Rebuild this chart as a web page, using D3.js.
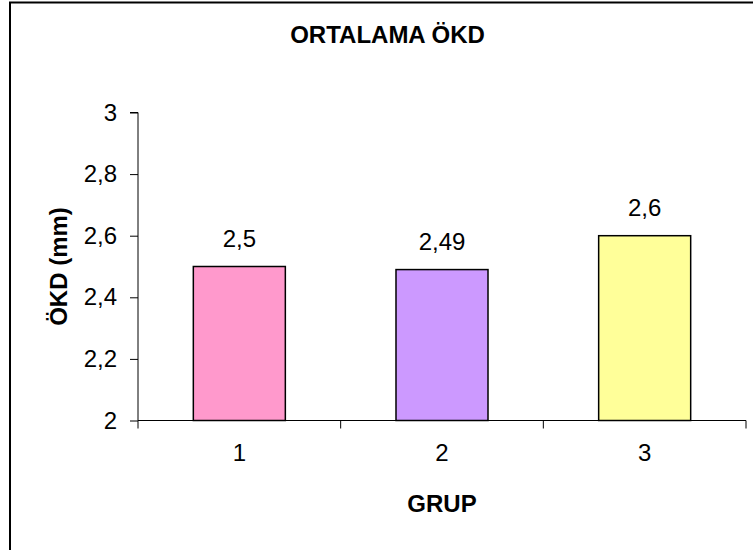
<!DOCTYPE html>
<html>
<head>
<meta charset="utf-8">
<script src="https://cdn.jsdelivr.net/npm/d3@7"></script>
<style>
  html, body { margin: 0; padding: 0; background: #fff; }
  svg { display: block; font-family: "Liberation Sans", Arial, sans-serif; }
</style>
</head>
<body>
<svg id="chart" width="753" height="550"></svg>
<script>
const categories = ["1", "2", "3"];
const values = [2.5, 2.49, 2.6];
const valueLabels = ["2,5", "2,49", "2,6"];
const barColors = ["#FF99CC", "#CC99FF", "#FFFF99"];
const yTicks = [2, 2.2, 2.4, 2.6, 2.8, 3];
const yTickLabels = ["2", "2,2", "2,4", "2,6", "2,8", "3"];
const titleText = "ORTALAMA ÖKD";
const xTitle = "GRUP";
const yTitle = "ÖKD (mm)";

(function () {
const svg = d3.select("#chart");

// outer chart border (extends beyond right/bottom edge)
svg.append("rect")
  .attr("x", 10).attr("y", 2.5)
  .attr("width", 800).attr("height", 600)
  .attr("fill", "#fff").attr("stroke", "#000").attr("stroke-width", 2);

const pLeft = 138, pRight = 746, pTop = 112.5, pBottom = 420.5;

const y = d3.scaleLinear().domain([2, 3]).range([pBottom, pTop]);
const p = 0.546;
const x = d3.scaleBand().domain(categories).range([pLeft, pRight])
  .paddingInner(p).paddingOuter(p / 2);

// title
svg.append("text")
  .attr("x", 387.5).attr("y", 42.7)
  .attr("text-anchor", "middle")
  .attr("font-size", 24).attr("font-weight", "bold")
  .text(titleText);

// bars
svg.selectAll("rect.bar").data(values).enter().append("rect")
  .attr("class", "bar")
  .attr("x", (d, i) => x(categories[i]))
  .attr("y", d => y(d))
  .attr("width", x.bandwidth())
  .attr("height", d => pBottom - y(d))
  .attr("fill", (d, i) => barColors[i])
  .attr("stroke", "#000").attr("stroke-width", 1.5);

// value labels
svg.selectAll("text.val").data(values).enter().append("text")
  .attr("class", "val")
  .attr("x", (d, i) => x(categories[i]) + x.bandwidth() / 2)
  .attr("y", d => y(d) - 19.5)
  .attr("text-anchor", "middle")
  .attr("font-size", 24)
  .text((d, i) => valueLabels[i]);

// y axis
const yAxis = d3.axisLeft(y).tickValues(yTicks).tickSize(8).tickPadding(13)
  .tickFormat((d, i) => yTickLabels[i]);
const gy = svg.append("g").attr("transform", `translate(${pLeft},0)`).call(yAxis);
gy.select(".domain").attr("stroke", "#000").attr("d", `M-8,${pTop}H0V${pBottom}`);
gy.selectAll(".tick line").attr("stroke", "#000");
gy.selectAll(".tick text").attr("font-size", 24).attr("fill", "#000")
  .attr("font-family", "Liberation Sans, Arial, sans-serif");

// x axis
const xAxis = d3.axisBottom(x).tickSize(0).tickPadding(23);
const gx = svg.append("g").attr("transform", `translate(0,${pBottom})`).call(xAxis);
gx.select(".domain").attr("stroke", "#000").attr("d", `M${pLeft},0H${pRight}`);
gx.selectAll(".tick text").attr("font-size", 24).attr("fill", "#000")
  .attr("font-family", "Liberation Sans, Arial, sans-serif");
// boundary ticks between categories
const bounds = d3.range(categories.length + 1).map(i => pLeft + i * x.step());
gx.selectAll("line.bt").data(bounds).enter().append("line")
  .attr("class", "bt")
  .attr("x1", d => d).attr("x2", d => d)
  .attr("y1", 0).attr("y2", 8)
  .attr("stroke", "#000");

// axis titles
svg.append("text")
  .attr("x", (pLeft + pRight) / 2).attr("y", 512)
  .attr("text-anchor", "middle")
  .attr("font-size", 24).attr("font-weight", "bold")
  .text(xTitle);

svg.append("text")
  .attr("transform", `translate(66.5,${(pTop + pBottom) / 2}) rotate(-90)`)
  .attr("text-anchor", "middle")
  .attr("font-size", 24).attr("font-weight", "bold")
  .text(yTitle);
})();
</script>
</body>
</html>
